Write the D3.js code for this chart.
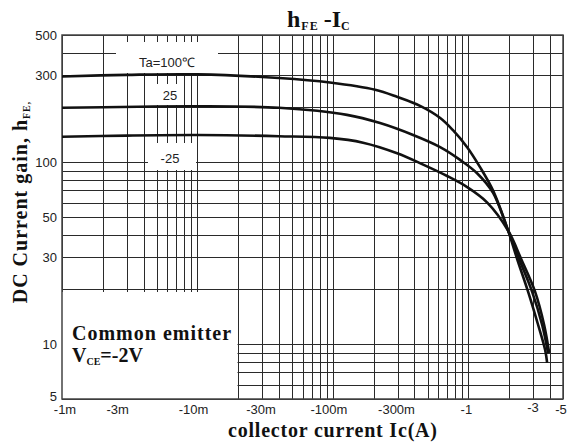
<!DOCTYPE html>
<html>
<head>
<meta charset="utf-8">
<script src="https://cdn.jsdelivr.net/npm/d3@7"></script>
<style>
  body { margin: 0; background: #fff; }
</style>
</head>
<body>
<div id="chart"></div>
<script>
// collector current magnitude (A) and hFE for each ambient temperature
const icHot = [0.001, 0.003, 0.01, 0.04, 0.095, 0.205, 0.3, 0.44, 0.62, 0.77, 0.98, 1.22, 1.52, 1.97, 2.293, 2.765, 3.278, 3.691, 3.819];
const hfeHot = [296, 302, 304, 290, 274, 250, 228, 204, 175, 150, 121, 94, 70, 42, 29.4, 19.4, 12.75, 9.29, 7.89];
const icRoom = [0.001, 0.01, 0.04, 0.127, 0.223, 0.391, 0.619, 0.869, 1.16, 1.52, 1.97, 2.372, 2.96, 3.509, 3.88];
const hfeRoom = [199, 203, 199, 182, 164, 141, 121, 103, 87, 68, 42, 29.4, 19.4, 12.75, 8.94];
const icCold = [0.001, 0.003, 0.01, 0.04, 0.095, 0.167, 0.298, 0.464, 0.697, 0.98, 1.38, 1.97, 2.455, 3.114, 3.629, 3.954];
const hfeCold = [138, 140, 141, 139, 136, 128, 112, 97, 84, 73, 60, 42, 29.4, 19.4, 12.75, 8.94];

const xTicks = [0.001, 0.003, 0.01, 0.03, 0.1, 0.3, 1, 3, 5];
const xTickLabels = ['-1m', '-3m', '-10m', '-30m', '-100m', '-300m', '-1', '-3', '-5'];
const yTicks = [5, 10, 30, 50, 100, 300, 500];
const yTickLabels = ['5', '10', '30', '50', '100', '300', '500'];

const W = 571, H = 443;
const pLeft = 62, pRight = 563, pTop = 35, pBottom = 399;

const x = d3.scaleLog().domain([0.001, 5]).range([pLeft, pRight]);
const y = d3.scaleLog().domain([5, 500]).range([pBottom, pTop]);

const svg = d3.select('#chart').append('svg')
    .attr('width', W)
    .attr('height', H);

// log grid: 1..9 per decade
const xGrid = [];
[0.001, 0.01, 0.1, 1].forEach(d => {
    for (let k = 1; k <= 9; k++) if (d * k <= 5) xGrid.push(d * k);
});
const yGrid = [];
[1, 10, 100].forEach(d => {
    for (let k = 1; k <= 9; k++) if (d * k >= 5 && d * k <= 500) yGrid.push(d * k);
});

const grid = svg.append('g').attr('stroke', '#2a2a2a').attr('stroke-width', 1);
grid.selectAll('line.v').data(xGrid).enter().append('line')
    .attr('x1', d => Math.round(x(d)) + 0.5).attr('x2', d => Math.round(x(d)) + 0.5)
    .attr('y1', pTop).attr('y2', pBottom);
grid.selectAll('line.h').data(yGrid).enter().append('line')
    .attr('y1', d => Math.round(y(d)) + 0.5).attr('y2', d => Math.round(y(d)) + 0.5)
    .attr('x1', pLeft).attr('x2', pRight);

// blank areas behind the labels
const blanks = [
    [116, 42, 218, 73],
    [155, 84, 182, 105],
    [148, 143, 196, 170],
    [pLeft, 292, 237.5, pBottom]
];
svg.selectAll('rect.blank').data(blanks).enter().append('rect')
    .attr('x', d => d[0]).attr('y', d => d[1])
    .attr('width', d => d[2] - d[0]).attr('height', d => d[3] - d[1])
    .attr('fill', '#fff');

svg.append('rect')
    .attr('x', pLeft).attr('y', pTop)
    .attr('width', pRight - pLeft).attr('height', pBottom - pTop)
    .attr('fill', 'none')
    .attr('stroke', '#444')
    .attr('stroke-width', 1.5);

const line = d3.line()
    .x(d => x(d[0]))
    .y(d => y(d[1]))
    .curve(d3.curveCatmullRom.alpha(0.5));

[[icHot, hfeHot], [icRoom, hfeRoom], [icCold, hfeCold]].forEach(s => {
    svg.append('path')
        .datum(s[0].map((v, i) => [v, s[1][i]]))
        .attr('d', line)
        .attr('fill', 'none')
        .attr('stroke', '#111')
        .attr('stroke-width', 2.6);
});

// tick labels
const sans = 'Liberation Sans, Arial, sans-serif';
const serif = 'Liberation Serif, Times New Roman, serif';
svg.selectAll('text.xt').data(xTicks).enter().append('text')
    .attr('x', (d, i) => x(d) + [3, -9, -4, -1, -4, -1, -2, 0, -2][i])
    .attr('y', (d, i) => i === 7 ? 412 : 414)
    .attr('text-anchor', 'middle')
    .attr('font-family', sans)
    .attr('font-size', 13)
    .attr('fill', '#222')
    .text((d, i) => xTickLabels[i]);
svg.selectAll('text.yt').data(yTicks).enter().append('text')
    .attr('x', 57)
    .attr('y', d => y(d) + (d === 5 ? 2 : 5))
    .attr('text-anchor', 'end')
    .attr('font-family', sans)
    .attr('font-size', 13)
    .attr('fill', '#222')
    .text((d, i) => yTickLabels[i]);

// temperature labels
[['Ta=100\u2103', 167, 67], ['25', 170, 100], ['-25', 170, 163]].forEach(t => {
    svg.append('text')
        .attr('x', t[1]).attr('y', t[2])
        .attr('text-anchor', 'middle')
        .attr('font-family', sans)
        .attr('font-size', 13)
        .attr('fill', '#222')
        .text(t[0]);
});

// title
const title = svg.append('text')
    .attr('x', 287).attr('y', 27)
    .attr('font-family', serif)
    .attr('font-weight', 'bold')
    .attr('font-size', 24)
    .attr('fill', '#111');
title.append('tspan').text('h');
title.append('tspan').attr('font-size', 12).attr('dy', 3).attr('dx', 1).attr('letter-spacing', 1).text('FE');
title.append('tspan').attr('dy', -3).attr('dx', 5).text('-I');
title.append('tspan').attr('font-size', 12).attr('dy', 3).text('C');

// axis titles
svg.append('text')
    .attr('x', 228).attr('y', 437)
    .attr('font-family', serif)
    .attr('font-weight', 'bold')
    .attr('font-size', 20)
    .attr('letter-spacing', 0.8)
    .attr('fill', '#111')
    .text('collector current Ic(A)');

const yl = svg.append('text')
    .attr('transform', 'translate(27,202) rotate(-90)')
    .attr('text-anchor', 'middle')
    .attr('font-family', serif)
    .attr('font-weight', 'bold')
    .attr('font-size', 20)
    .attr('letter-spacing', 1)
    .attr('fill', '#111');
yl.append('tspan').text('DC Current gain, h');
yl.append('tspan').attr('font-size', 10).attr('dy', 3).text('FE,');

// conditions
svg.append('text')
    .attr('x', 72).attr('y', 340)
    .attr('font-family', serif)
    .attr('font-weight', 'bold')
    .attr('font-size', 20)
    .attr('letter-spacing', 1)
    .attr('fill', '#111')
    .text('Common emitter');
const vce = svg.append('text')
    .attr('x', 72).attr('y', 362)
    .attr('font-family', serif)
    .attr('font-weight', 'bold')
    .attr('font-size', 20)
    .attr('fill', '#111');
vce.append('tspan').text('V');
vce.append('tspan').attr('font-size', 10).attr('dy', 3).text('CE');
vce.append('tspan').attr('dy', -3).text('=-2V');
</script>
</body>
</html>
